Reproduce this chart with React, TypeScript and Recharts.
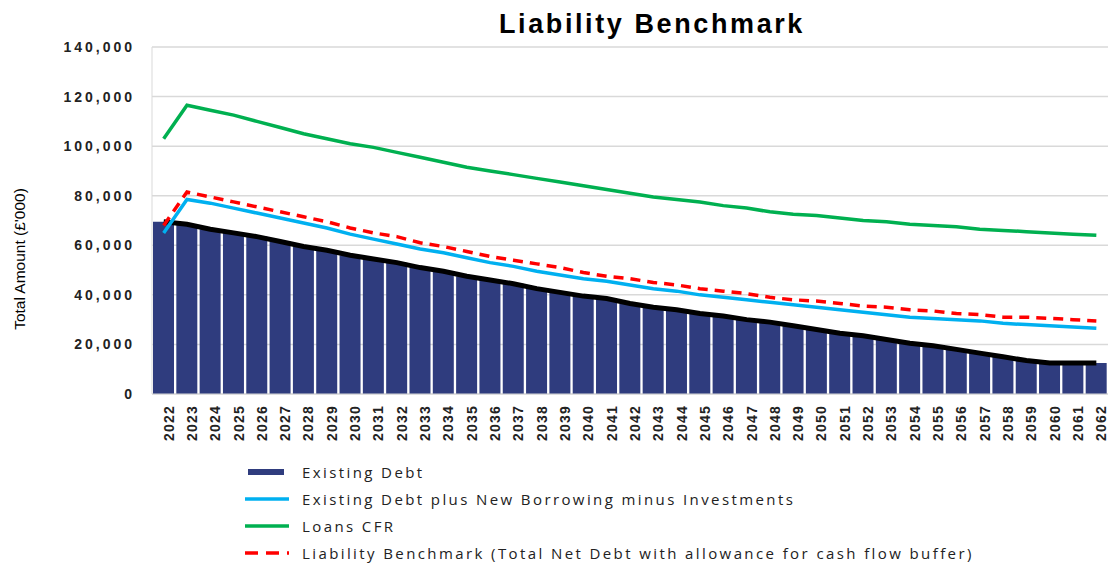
import { ComposedChart, Bar, Line, XAxis, YAxis, CartesianGrid } from 'recharts';

const years = [
  '2022', '2023', '2024', '2025', '2026', '2027', '2028', '2029', '2030', '2031',
  '2032', '2033', '2034', '2035', '2036', '2037', '2038', '2039', '2040', '2041',
  '2042', '2043', '2044', '2045', '2046', '2047', '2048', '2049', '2050', '2051',
  '2052', '2053', '2054', '2055', '2056', '2057', '2058', '2059', '2060', '2061', '2062',
];

const existingDebt = [
  69500, 68500, 66500, 65000, 63500, 61500, 59500, 58000, 56000, 54500,
  53000, 51000, 49500, 47500, 46000, 44500, 42500, 41000, 39500, 38500,
  36500, 35000, 34000, 32500, 31500, 30000, 29000, 27500, 26000, 24500,
  23500, 22000, 20500, 19500, 18000, 16500, 15000, 13500, 12500, 12500, 12500,
];

const netBorrowing = [
  65000, 78500, 77000, 75000, 73000, 71000, 69000, 67000, 64500, 62500,
  60500, 58500, 57000, 55000, 53000, 51500, 49500, 48000, 46500, 45500,
  44000, 42500, 41500, 40000, 39000, 38000, 37000, 36000, 35000, 34000,
  33000, 32000, 31000, 30500, 30000, 29500, 28500, 28000, 27500, 27000, 26500,
];

const loansCfr = [
  103000, 116500, 114500, 112500, 110000, 107500, 105000, 103000, 101000, 99500,
  97500, 95500, 93500, 91500, 90000, 88500, 87000, 85500, 84000, 82500,
  81000, 79500, 78500, 77500, 76000, 75000, 73500, 72500, 72000, 71000,
  70000, 69500, 68500, 68000, 67500, 66500, 66000, 65500, 65000, 64500, 64000,
];

const liabilityBenchmark = [
  68000, 81500, 79500, 77500, 75500, 73500, 71500, 69500, 67000, 65000,
  63500, 61000, 59500, 57500, 55500, 54000, 52500, 51000, 49000, 47500,
  46500, 45000, 44000, 42500, 41500, 40500, 39000, 38000, 37500, 36500,
  35500, 35000, 34000, 33500, 32500, 32000, 31000, 31000, 30500, 30000, 29500,
];

const yTicks = [0, 20000, 40000, 60000, 80000, 100000, 120000, 140000];

const data = years.map((year, i) => ({
  year,
  debt: existingDebt[i],
  net: netBorrowing[i],
  cfr: loansCfr[i],
  lb: liabilityBenchmark[i],
}));

const legendItems = [
  { label: 'Existing Debt', color: '#2F3C7E', kind: 'bar' },
  { label: 'Existing Debt plus New Borrowing minus Investments', color: '#00B0F0', kind: 'line' },
  { label: 'Loans CFR', color: '#00B050', kind: 'line' },
  { label: 'Liability Benchmark (Total Net Debt with allowance for cash flow buffer)', color: '#FF0000', kind: 'dash' },
];

export default function App() {
  return (
    <div style={{ position: 'absolute', left: 0, top: 0, width: 1108, height: 564, background: '#fff', fontFamily: '"Liberation Sans", Arial, sans-serif', overflow: 'hidden' }}>
      <div style={{ position: 'absolute', left: 352, width: 600, top: 9, textAlign: 'center', fontSize: 27, fontWeight: 'bold', letterSpacing: 2.6, color: '#000' }}>
        Liability Benchmark
      </div>
      <div style={{ position: 'absolute', left: 20, top: 259, width: 0, height: 0 }}>
        <div style={{ position: 'absolute', transform: 'translate(-50%, -50%) rotate(-90deg)', whiteSpace: 'nowrap', fontSize: 15.5, fontFamily: '"Liberation Sans Narrow", "Liberation Sans", sans-serif', color: '#000' }}>
          Total Amount (£'000)
        </div>
      </div>
      <ComposedChart
        width={1108}
        height={564}
        data={data}
        margin={{ top: 47, right: 0, bottom: 120, left: 0 }}
        barCategoryGap={1}
      >
        <CartesianGrid vertical={false} stroke="#d9d9d9" strokeWidth={1.5} />
        <XAxis
          dataKey="year"
          interval={0}
          angle={-90}
          textAnchor="end"
          height={50}
          tickLine={false}
          axisLine={{ stroke: '#d9d9d9' }}
          tick={{ fontSize: 14, fontWeight: 'bold', fill: '#222', letterSpacing: 1.2 }}
          tickMargin={5}
        />
        <YAxis
          width={152}
          domain={[0, 140000]}
          ticks={yTicks}
          tickLine={false}
          axisLine={{ stroke: '#d9d9d9' }}
          tick={{ fontSize: 14, fontWeight: 'bold', fill: '#222', letterSpacing: 3 }}
          tickMargin={11}
          tickFormatter={(v: number) => v.toLocaleString('en-GB')}
        />
        <Bar dataKey="debt" fill="#2F3C7E" isAnimationActive={false} />
        <Line type="linear" dataKey="debt" stroke="#000" strokeWidth={5} dot={false} legendType="none" isAnimationActive={false} />
        <Line type="linear" dataKey="net" stroke="#00B0F0" strokeWidth={3.5} dot={false} isAnimationActive={false} />
        <Line type="linear" dataKey="cfr" stroke="#00B050" strokeWidth={3.5} dot={false} isAnimationActive={false} />
        <Line type="linear" dataKey="lb" stroke="#FF0000" strokeWidth={3.5} strokeDasharray="10 7" dot={false} isAnimationActive={false} />
      </ComposedChart>
      <div style={{ position: 'absolute', left: 245, top: 458, fontFamily: '"Open Sans", "Noto Sans", sans-serif', fontSize: 15, color: '#222' }}>
        {legendItems.map((item) => (
          <div key={item.label} style={{ display: 'flex', alignItems: 'center', height: 27, lineHeight: '18px', letterSpacing: 2.4, whiteSpace: 'nowrap' }}>
            <svg width={44} height={10} style={{ marginRight: 13 }}>
              {item.kind === 'bar' && <rect x={3} y={2} width={36} height={6} fill={item.color} />}
              {item.kind === 'line' && <line x1={0} y1={5} x2={44} y2={5} stroke={item.color} strokeWidth={3.5} />}
              {item.kind === 'dash' && <line x1={0} y1={5} x2={44} y2={5} stroke={item.color} strokeWidth={3.5} strokeDasharray="13 8" />}
            </svg>
            <span>{item.label}</span>
          </div>
        ))}
      </div>
    </div>
  );
}
